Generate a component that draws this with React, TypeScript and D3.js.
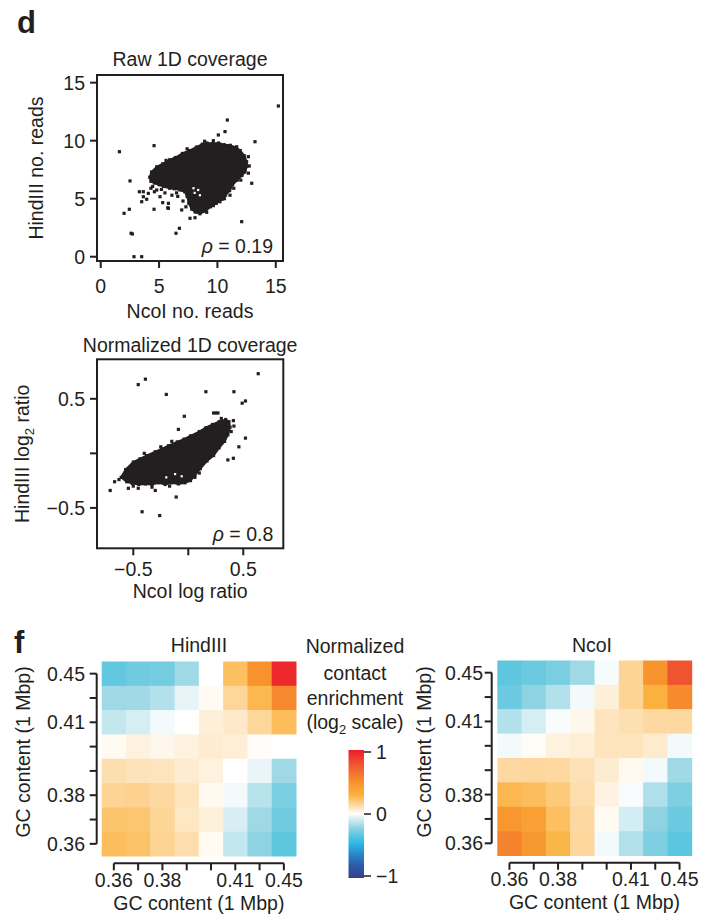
import React from "react";
import * as d3 from "d3";

type Pt = [number, number];

const W = 716;
const H = 917;
const FONT = "'Liberation Sans', Arial, Helvetica, sans-serif";
const INK = "#231f20";

// ---- Raw 1D coverage: NcoI reads (x) vs HindIII reads (y) ----
const rawTicks = [0, 5, 10, 15];
const rawTickLabels = ["0", "5", "10", "15"];
// outline of the dense body of bins
const rawCloudOutline: Pt[] = [
  [4.2, 6.85], [4.35, 7.3], [4.8, 7.75], [5.3, 8.0], [5.9, 8.35], [6.4, 8.55],
  [7.0, 8.9], [7.6, 9.15], [8.2, 9.45], [8.7, 9.7], [9.1, 9.8], [9.6, 9.75],
  [10.1, 9.8], [10.6, 9.65], [11.1, 9.6], [11.6, 9.4], [11.95, 9.15], [12.3, 8.7],
  [12.5, 8.2], [12.55, 7.8], [12.35, 7.3], [12.1, 7.0], [11.7, 6.6], [11.3, 6.2],
  [11.05, 5.7], [10.7, 5.3], [10.4, 4.95], [9.9, 4.6], [9.4, 4.3], [9.0, 3.95],
  [8.5, 3.7], [8.1, 3.85], [7.8, 4.1], [7.55, 4.6], [7.4, 5.2], [7.2, 5.6],
  [6.8, 5.75], [6.3, 5.85], [5.9, 5.9], [5.4, 6.05], [5.0, 6.2], [4.6, 6.35], [4.3, 6.5],
];
// empty spots inside the body
const rawCloudGaps: Pt[] = [
  [8.05, 5.5], [8.35, 5.75], [8.5, 5.3], [7.95, 5.9],
];
// isolated bins
const rawOutliers: Pt[] = [
  [1.6, 9.05], [4.57, 9.57], [2.51, 6.53], [2.0, 3.74], [2.45, 4.09], [2.71, 1.96],
  [2.85, 0.0], [3.51, 0.0], [3.31, 5.6], [3.65, 5.17], [3.94, 4.95], [3.51, 4.74],
  [4.08, 5.46], [4.57, 4.09], [4.8, 5.75], [5.08, 5.17], [5.8, 4.6], [5.8, 4.17],
  [6.94, 4.03], [5.31, 4.66], [6.45, 2.02], [6.74, 2.45], [7.65, 3.31], [8.08, 3.36],
  [9.08, 3.83], [9.65, 10.0], [10.08, 10.49], [10.85, 11.78], [10.65, 10.78],
  [13.22, 9.91], [12.73, 7.82], [12.94, 6.33], [12.08, 3.02], [15.22, 12.99],
  [12.65, 8.62], [12.37, 7.47], [10.22, 4.74], [9.65, 4.4], [11.08, 5.3],
  [11.79, 9.05], [11.65, 9.48], [4.3, 5.9], [4.6, 5.6], [5.5, 5.5], [6.1, 5.3],
  [6.5, 5.5], [3.65, 5.6], [5.74, 4.22], [2.6, 2.02], [4.45, 6.05], [5.2, 5.8],
  [6.6, 5.2], [7.05, 4.8], [7.3, 4.3], [10.6, 5.0], [11.4, 5.9], [12.0, 6.6],
  [8.9, 9.95], [7.4, 9.3], [5.6, 8.3], [12.65, 7.2],
];
const rawRho = "0.19";

// ---- Normalized 1D coverage: log ratios ----
const normTicks = [-0.5, 0, 0.5];
const normTickLabels = ["\u22120.5", "", "0.5"];
const normCloudOutline: Pt[] = [
  [-0.61, -0.22], [-0.57, -0.15], [-0.5, -0.08], [-0.44, -0.05], [-0.38, -0.02],
  [-0.3, 0.015], [-0.24, 0.04], [-0.18, 0.07], [-0.1, 0.105], [-0.04, 0.13],
  [0.02, 0.16], [0.1, 0.2], [0.16, 0.235], [0.22, 0.265], [0.28, 0.29], [0.34, 0.31],
  [0.37, 0.29], [0.38, 0.24], [0.36, 0.17], [0.33, 0.11], [0.28, 0.05], [0.23, -0.02],
  [0.17, -0.07], [0.11, -0.14], [0.06, -0.2], [0.02, -0.25], [-0.03, -0.27],
  [-0.09, -0.28], [-0.15, -0.27], [-0.21, -0.285], [-0.27, -0.27], [-0.33, -0.285],
  [-0.39, -0.28], [-0.45, -0.285], [-0.51, -0.275], [-0.56, -0.26],
];
const normCloudGaps: Pt[] = [
  [-0.2, -0.22], [-0.12, -0.19], [-0.06, -0.21],
];
const normOutliers: Pt[] = [
  [-0.71, -0.34], [-0.67, -0.26], [-0.63, -0.24], [-0.455, 0.63], [-0.39, 0.68],
  [-0.2, 0.54], [-0.036, 0.34], [0.16, 0.565], [0.23, 0.37], [0.25, 0.37], [0.27, 0.37],
  [0.415, 0.565], [0.49, 0.46], [0.52, 0.48], [0.636, 0.73], [0.41, 0.3], [0.415, 0.25],
  [0.52, 0.14], [0.46, 0.06], [0.41, -0.045], [0.36, -0.06], [-0.09, 0.22],
  [-0.25, 0.06], [-0.11, -0.4], [-0.42, -0.535], [-0.26, -0.57], [-0.545, -0.32],
  [-0.455, -0.32], [-0.33, -0.31], [-0.3, -0.34], [-0.17, -0.3], [-0.5, -0.3],
  [0.06, -0.22], [0.1, -0.18], [-0.4, 0.0], [-0.15, 0.11], [0.3, 0.32], [0.39, 0.2],
];
const normRho = "0.8";

// ---- Contact enrichment by GC content (log2), rows from 0.45 down to 0.36 ----
const gcBins = ["0.36", "0.37", "0.38", "0.39", "0.40", "0.41", "0.43", "0.45"];
const gcLabeled = ["0.36", "0.38", "0.41", "0.45"];
const hindIIIRows: number[][] = [
  [-0.32, -0.29, -0.28, -0.19, 0.0, 0.24, 0.5, 0.95],
  [-0.19, -0.185, -0.15, -0.04, 0.02, 0.15, 0.27, 0.54],
  [-0.12, -0.08, -0.02, 0.0, 0.06, 0.08, 0.15, 0.25],
  [0.02, 0.05, 0.03, 0.05, 0.07, 0.065, 0.01, 0.0],
  [0.12, 0.105, 0.1, 0.07, 0.05, 0.0, -0.035, -0.19],
  [0.16, 0.165, 0.14, 0.1, 0.025, -0.02, -0.14, -0.27],
  [0.22, 0.215, 0.155, 0.09, 0.055, -0.075, -0.19, -0.29],
  [0.245, 0.23, 0.16, 0.125, 0.02, -0.12, -0.22, -0.33],
];
const ncoIRows: number[][] = [
  [-0.33, -0.3, -0.27, -0.19, -0.015, 0.16, 0.49, 0.78],
  [-0.3, -0.22, -0.15, -0.02, 0.06, 0.16, 0.3, 0.53],
  [-0.15, -0.08, -0.01, 0.03, 0.1, 0.115, 0.14, 0.14],
  [-0.02, 0.015, 0.05, 0.065, 0.1, 0.1, 0.075, -0.02],
  [0.14, 0.145, 0.14, 0.11, 0.07, 0.025, -0.02, -0.19],
  [0.27, 0.245, 0.2, 0.125, 0.045, -0.01, -0.16, -0.26],
  [0.47, 0.41, 0.24, 0.14, 0.02, -0.085, -0.22, -0.3],
  [0.57, 0.46, 0.28, 0.145, -0.02, -0.15, -0.26, -0.34],
];
const legendTicks = [1, 0, -1];
const legendTickLabels = ["1", "0", "\u22121"];

// diverging colour ramp for log2 enrichment
const enrichStops = [-1, -0.8, -0.6, -0.45, -0.33, -0.22, -0.12, -0.04, 0, 0.05, 0.15, 0.25, 0.3, 0.5, 0.78, 1];
const enrichColors = [
  "#363f8e", "#2d5ba8", "#2a8fd0", "#30b9e6", "#5ec7df", "#8fd3e2", "#c3e7ef", "#e6f4f8",
  "#ffffff", "#fef2df", "#fdd69a", "#fcbd5a", "#fbb13f", "#f7922d", "#ef5430", "#ed1c2e",
];
const enrichColor = d3
  .scaleLinear<string>()
  .domain(enrichStops)
  .range(enrichColors)
  .interpolate(d3.interpolateRgb)
  .clamp(true);

interface ScatterSpec {
  left: number; right: number; top: number; bottom: number;
  xDomain: [number, number]; yDomain: [number, number];
  ticks: number[]; tickLabels: string[];
  outline: Pt[]; gaps: Pt[]; outliers: Pt[];
  title: string; titleY: number;
  xLabel: string; xTickY: number; xLabelY: number;
  yLabel: React.ReactNode; yLabelX: number;
  rho: string; rhoY: number;
}

function ScatterPanel({ s }: { s: ScatterSpec }) {
  const x = d3.scaleLinear().domain(s.xDomain).range([s.left, s.right]);
  const y = d3.scaleLinear().domain(s.yDomain).range([s.bottom, s.top]);
  const body = d3
    .line<Pt>()
    .x((d) => x(d[0]))
    .y((d) => y(d[1]))
    .curve(d3.curveLinearClosed);
  const cx = (s.left + s.right) / 2;
  const cy = (s.top + s.bottom) / 2;
  const dot = 3.2;
  const sq = (d: Pt, i: number, fill: string, size: number) => (
    <rect key={i} x={x(d[0]) - size / 2} y={y(d[1]) - size / 2} width={size} height={size} fill={fill} />
  );
  return (
    <g>
      <text x={cx} y={s.titleY} textAnchor="middle">{s.title}</text>
      <path d={body(s.outline) ?? ""} fill={INK} stroke={INK} strokeWidth={2} strokeLinejoin="miter" />
      {s.outline.map((d, i) => sq(d, i, INK, dot))}
      {s.gaps.map((d, i) => sq(d, i, "#ffffff", 2.2))}
      {s.outliers.map((d, i) => sq(d, i, INK, dot))}
      <rect x={s.left} y={s.top} width={s.right - s.left} height={s.bottom - s.top} fill="none" stroke={INK} strokeWidth={2} />
      {s.ticks.map((t, i) => (
        <g key={"y" + i}>
          <line x1={s.left - 7} x2={s.left} y1={y(t)} y2={y(t)} stroke={INK} strokeWidth={2} />
          <text x={s.left - 12} y={y(t)} dy="0.36em" textAnchor="end">{s.tickLabels[i]}</text>
        </g>
      ))}
      {s.ticks.map((t, i) => (
        <g key={"x" + i}>
          <line x1={x(t)} x2={x(t)} y1={s.bottom} y2={s.bottom + 7} stroke={INK} strokeWidth={2} />
          <text x={x(t)} y={s.xTickY} textAnchor="middle">{s.tickLabels[i]}</text>
        </g>
      ))}
      <text x={cx} y={s.xLabelY} textAnchor="middle">{s.xLabel}</text>
      <text transform={`translate(${s.yLabelX},${cy}) rotate(-90)`} textAnchor="middle">{s.yLabel}</text>
      <text x={s.right - 10} y={s.rhoY} textAnchor="end">
        <tspan fontStyle="italic">{"\u03c1"}</tspan>{" = " + s.rho}
      </text>
    </g>
  );
}

interface HeatSpec {
  rows: number[][];
  left: number; right: number; top: number; bottom: number;
  yAxisX: number; xAxisY: number;
  yTickLabelX: number; xTickLabelY: number;
  xTitleY: number; yTitleX: number; yTitleY: number;
  title: string; titleX: number; titleY: number;
}

function HeatmapPanel({ h }: { h: HeatSpec }) {
  const x = d3.scaleBand<string>().domain(gcBins).range([h.left, h.right]);
  const y = d3.scaleBand<string>().domain([...gcBins].reverse()).range([h.top, h.bottom]);
  const rowKeys = y.domain();
  const bw = x.bandwidth();
  const bh = y.bandwidth();
  const xc = (k: string) => (x(k) ?? 0) + bw / 2;
  const yc = (k: string) => (y(k) ?? 0) + bh / 2;
  return (
    <g>
      <text x={h.titleX} y={h.titleY} textAnchor="middle">{h.title}</text>
      {h.rows.map((row, ri) =>
        row.map((v, ci) => (
          <rect
            key={ri + "-" + ci}
            x={x(gcBins[ci])}
            y={y(rowKeys[ri])}
            width={bw + 0.5}
            height={bh + 0.5}
            fill={enrichColor(v)}
          />
        ))
      )}
      <line x1={h.yAxisX} x2={h.yAxisX} y1={yc(rowKeys[0])} y2={yc(rowKeys[rowKeys.length - 1])} stroke={INK} strokeWidth={2} />
      {rowKeys.map((k) => (
        <line key={"yt" + k} x1={h.yAxisX - 7} x2={h.yAxisX} y1={yc(k)} y2={yc(k)} stroke={INK} strokeWidth={2} />
      ))}
      {rowKeys.filter((k) => gcLabeled.includes(k)).map((k) => (
        <text key={"yl" + k} x={h.yTickLabelX} y={yc(k)} dy="0.36em" textAnchor="end">{k}</text>
      ))}
      <line x1={xc(gcBins[0])} x2={xc(gcBins[gcBins.length - 1])} y1={h.xAxisY} y2={h.xAxisY} stroke={INK} strokeWidth={2} />
      {gcBins.map((k) => (
        <line key={"xt" + k} x1={xc(k)} x2={xc(k)} y1={h.xAxisY} y2={h.xAxisY + 7} stroke={INK} strokeWidth={2} />
      ))}
      {gcBins.filter((k) => gcLabeled.includes(k)).map((k) => (
        <text key={"xl" + k} x={xc(k)} y={h.xTickLabelY} textAnchor="middle">{k}</text>
      ))}
      <text x={(h.left + h.right) / 2} y={h.xTitleY} textAnchor="middle">GC content (1 Mbp)</text>
      <text transform={`translate(${h.yTitleX},${h.yTitleY}) rotate(-90)`} textAnchor="middle">GC content (1 Mbp)</text>
    </g>
  );
}

function ColorLegend() {
  const left = 348.5;
  const width = 15.5;
  const top = 750;
  const bottom = 878;
  const y = d3.scaleLinear().domain([-1, 1]).range([bottom - 2, top + 2]);
  const samples = d3.range(0, 81).map((i) => 1 - i / 40);
  const cx = 355;
  return (
    <g>
      <defs>
        <linearGradient id="enrich-grad" x1="0" y1="0" x2="0" y2="1">
          {samples.map((v, i) => (
            <stop key={i} offset={`${(i / 80) * 100}%`} stopColor={enrichColor(v)} />
          ))}
        </linearGradient>
      </defs>
      <text x={cx} y={653} textAnchor="middle">Normalized</text>
      <text x={cx} y={680} textAnchor="middle">contact</text>
      <text x={cx} y={705} textAnchor="middle">enrichment</text>
      <text x={cx} y={729} textAnchor="middle">
        (log<tspan dy={5} fontSize={13}>2</tspan><tspan dy={-5}> scale)</tspan>
      </text>
      <rect x={left} y={top} width={width} height={bottom - top} fill="url(#enrich-grad)" />
      {legendTicks.map((t, i) => (
        <g key={i}>
          <line x1={left + width} x2={left + width + 7} y1={y(t)} y2={y(t)} stroke={INK} strokeWidth={1.5} />
          <text x={left + width + 12} y={y(t)} dy="0.36em">{legendTickLabels[i]}</text>
        </g>
      ))}
    </g>
  );
}

export default function App() {
  const rawSpec: ScatterSpec = {
    left: 97, right: 283, top: 75, bottom: 261,
    xDomain: [-0.32, 15.62], yDomain: [-0.37, 15.66],
    ticks: rawTicks, tickLabels: rawTickLabels,
    outline: rawCloudOutline, gaps: rawCloudGaps, outliers: rawOutliers,
    title: "Raw 1D coverage", titleY: 66,
    xLabel: "NcoI no. reads", xTickY: 293, xLabelY: 318,
    yLabel: "HindIII no. reads", yLabelX: 43,
    rho: rawRho, rhoY: 253,
  };
  const normSpec: ScatterSpec = {
    left: 97, right: 283.3, top: 359.3, bottom: 548.3,
    xDomain: [-0.83, 0.864], yDomain: [-0.87, 0.862],
    ticks: normTicks, tickLabels: normTickLabels,
    outline: normCloudOutline, gaps: normCloudGaps, outliers: normOutliers,
    title: "Normalized 1D coverage", titleY: 352,
    xLabel: "NcoI log ratio", xTickY: 576, xLabelY: 598,
    yLabel: (
      <>
        HindIII log<tspan dy={5} fontSize={13}>2</tspan><tspan dy={-5}> ratio</tspan>
      </>
    ),
    yLabelX: 29,
    rho: normRho, rhoY: 541,
  };
  const hindSpec: HeatSpec = {
    rows: hindIIIRows,
    left: 101.7, right: 296, top: 661.5, bottom: 856,
    yAxisX: 96.7, xAxisY: 863.3,
    yTickLabelX: 85, xTickLabelY: 887,
    xTitleY: 910, yTitleX: 30, yTitleY: 752,
    title: "HindIII", titleX: 199, titleY: 652,
  };
  const ncoSpec: HeatSpec = {
    rows: ncoIRows,
    left: 497.3, right: 691.7, top: 660.5, bottom: 855.5,
    yAxisX: 491.7, xAxisY: 862.7,
    yTickLabelX: 483, xTickLabelY: 886,
    xTitleY: 909, yTitleX: 431, yTitleY: 752,
    title: "NcoI", titleX: 592, titleY: 652,
  };
  return (
    <svg
      width={W}
      height={H}
      viewBox={`0 0 ${W} ${H}`}
      style={{ position: "absolute", left: 0, top: 0, display: "block", background: "#ffffff" }}
      fontFamily={FONT}
      fontSize={19.5}
      fill={INK}
    >
      <rect x={0} y={0} width={W} height={H} fill="#ffffff" />
      <text x={17} y={33} fontSize={31} fontWeight="bold">d</text>
      <ScatterPanel s={rawSpec} />
      <ScatterPanel s={normSpec} />
      <text x={14} y={653} fontSize={31} fontWeight="bold">f</text>
      <HeatmapPanel h={hindSpec} />
      <HeatmapPanel h={ncoSpec} />
      <ColorLegend />
    </svg>
  );
}
